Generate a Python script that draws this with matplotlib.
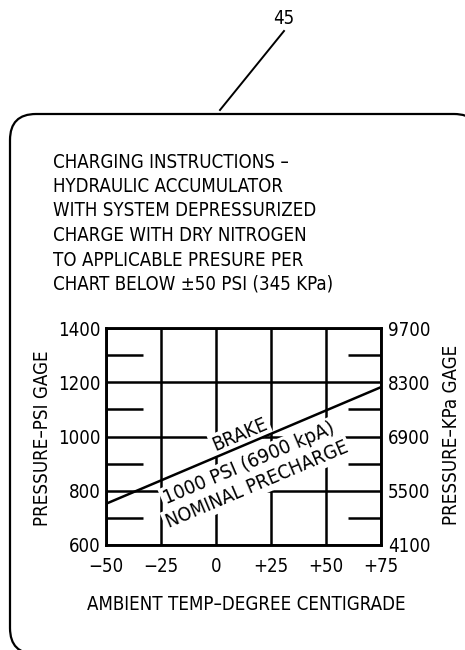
import numpy as np
import matplotlib
matplotlib.use("Agg")
import matplotlib.pyplot as plt
from matplotlib.patches import FancyBboxPatch

# ---- datos del grafico ----
temps = [-50, -25, 0, 25, 50, 75]
temp_labels = ["\u221250", "\u221225", "0", "+25", "+50", "+75"]
psi_ticks = [600, 800, 1000, 1200, 1400]
kpa_ticks = [4100, 5500, 6900, 8300, 9700]
psi_short = [700, 900, 1100, 1300]
brake_temp = [-50, 75]
brake_psi = [752, 1182]

header = ["CHARGING INSTRUCTIONS \u2013",
          "HYDRAULIC ACCUMULATOR",
          "WITH SYSTEM DEPRESSURIZED",
          "CHARGE WITH DRY NITROGEN",
          "TO APPLICABLE PRESURE PER",
          "CHART BELOW \u00b150 PSI (345 KPa)"]

plt.rcParams['font.family'] = ['DejaVu Sans']
plt.rcParams['font.stretch'] = 'condensed'
fs = 13.4

fig = plt.figure(figsize=(4.65, 6.5), dpi=100)

# capa de fondo en pixeles
bg = fig.add_axes([0, 0, 1, 1])
bg.set_xlim(0, 465)
bg.set_ylim(650, 0)
bg.axis("off")
caja = FancyBboxPatch((10, 114), 470, 540, boxstyle="round,pad=0,rounding_size=26",
                      fc="white", ec="black", lw=1.6)
bg.add_patch(caja)
bg.plot([220, 284], [110, 31], color="black", lw=1.4)
bg.text(284, 19, "45", fontsize=fs, ha="center", va="center")
for i, linea in enumerate(header):
    bg.text(53, 162 + i * 24.5, linea, fontsize=fs, ha="left", va="center")
bg.text(246, 605, "AMBIENT TEMP\u2013DEGREE CENTIGRADE", fontsize=fs, ha="center", va="center")
bg.text(42, 438, "PRESSURE\u2013PSI GAGE", fontsize=fs, ha="center", va="center", rotation=90)
bg.text(451, 435, "PRESSURE\u2013KPa GAGE", fontsize=fs, ha="center", va="center", rotation=90)

# grafica principal
ax = fig.add_axes([106 / 465, 105 / 650, 275 / 465, 217 / 650])
ax.set_xlim(-50, 75)
ax.set_ylim(600, 1400)
ax.set_xticks(temps)
ax.set_xticklabels(temp_labels, fontsize=fs)
ax.set_yticks(psi_ticks)
ax.set_yticklabels([str(v) for v in psi_ticks], fontsize=fs)
ax.tick_params(length=0)
ax.tick_params(axis="x", pad=9)
ax.tick_params(axis="y", pad=4)
ax.set_axisbelow(True)
ax.grid(True, color="black", lw=1.8)
for s in ax.spines.values():
    s.set_linewidth(1.8)

ax.hlines(psi_short, -50, -33, color="black", lw=1.8, zorder=1)
ax.hlines(psi_short, 60, 75, color="black", lw=1.8, zorder=1)

ax.plot(brake_temp, brake_psi, color="black", lw=1.8, zorder=5)

caja_txt = dict(boxstyle="square,pad=0.12", fc="white", ec="none")
ax.text(11, 1006, "BRAKE", fontsize=14, rotation=23, ha="center", va="center",
        bbox=caja_txt, zorder=3)
ax.text(15, 900, "1000 PSI (6900 kpA)", fontsize=14.4, rotation=23, ha="center", va="center",
        bbox=caja_txt, zorder=3)
ax.text(18.5, 823, "NOMINAL PRECHARGE", fontsize=14, rotation=23, ha="center", va="center",
        bbox=caja_txt, zorder=3)

ax2 = ax.twinx()
ax2.set_ylim(4100, 9700)
ax2.set_yticks(kpa_ticks)
ax2.set_yticklabels([str(v) for v in kpa_ticks], fontsize=fs)
ax2.tick_params(length=0, pad=5)
for s in ax2.spines.values():
    s.set_linewidth(1.8)

fig.savefig("out.png", dpi=100)
